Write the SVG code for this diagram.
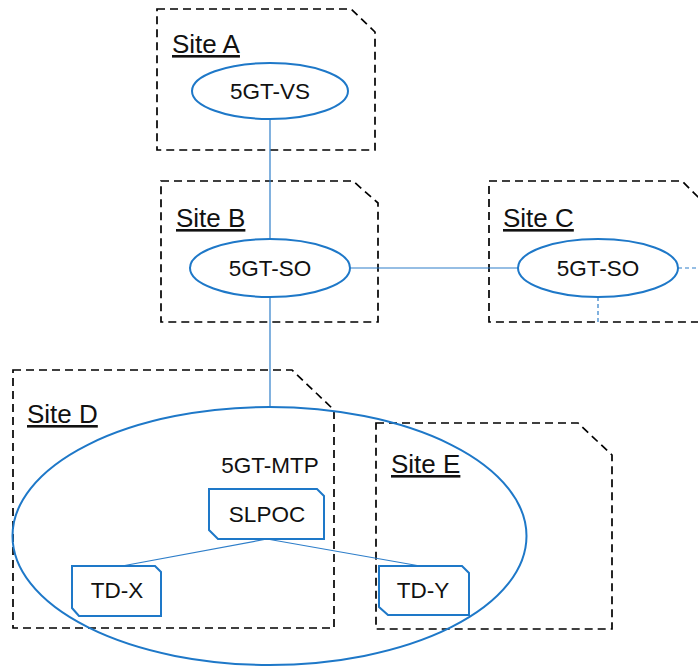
<svg xmlns="http://www.w3.org/2000/svg" width="698" height="668" viewBox="0 0 698 668">
<style>
.site{fill:none;stroke:#000;stroke-width:1.7;stroke-dasharray:8 5}
.lbl{font-family:"Liberation Sans",Arial,sans-serif;font-size:26px;fill:#111;text-decoration:underline}
.node{fill:#fff;stroke:#1E78C8;stroke-width:2}
.txt{font-family:"Liberation Sans",Arial,sans-serif;font-size:22.5px;fill:#111;text-anchor:middle}
.conn{stroke:#2E7EC9;stroke-width:1.2;fill:none}
.dconn{stroke:#2E7EC9;stroke-width:1.2;fill:none;stroke-dasharray:4 3}
</style>
<rect width="698" height="668" fill="#fff"/>
<g id="siteA"><path class="site" d="M157,9 H351 L375,32 V150 H157 Z"/><text class="lbl" x="172" y="53">Site A</text></g>
<g id="siteB"><path class="site" d="M161,181 H353 L378,203 V322 H161 Z"/><text class="lbl" x="176" y="227">Site B</text></g>
<g id="siteC"><path class="site" d="M489,181 H682 L706,205 V322 H489 Z"/><text class="lbl" x="503" y="227">Site C</text></g>
<g id="siteD"><path class="site" d="M13,370 H292 L334,410 V628 H13 Z"/><text class="lbl" x="27" y="423">Site D</text></g>
<g id="siteE"><path class="site" d="M376,423 H578 L612,455 V629 H376 Z"/><text class="lbl" x="391" y="473">Site E</text></g>
<g id="connectors">
<line class="conn" x1="270" y1="119" x2="270" y2="239"/>
<line class="conn" x1="270" y1="297" x2="270" y2="407"/>
<line class="conn" x1="350" y1="268" x2="518" y2="268"/>
<line class="dconn" x1="678" y1="268" x2="698" y2="268"/>
<line class="dconn" x1="598" y1="297" x2="598" y2="322"/>
<line class="conn" x1="267" y1="539" x2="122" y2="566"/>
<line class="conn" x1="267" y1="539" x2="420" y2="566"/>
</g>
<g id="mtp"><ellipse cx="269.5" cy="536" rx="257" ry="129" fill="none" stroke="#1E78C8" stroke-width="2"/><text class="txt" x="270" y="473">5GT-MTP</text></g>
<g id="vs"><ellipse class="node" cx="270" cy="91" rx="78" ry="28"/><text class="txt" x="270" y="99">5GT-VS</text></g>
<g id="soB"><ellipse class="node" cx="270" cy="268" rx="80" ry="29"/><text class="txt" x="270" y="276">5GT-SO</text></g>
<g id="soC"><ellipse class="node" cx="598" cy="268" rx="80" ry="29"/><text class="txt" x="598" y="276">5GT-SO</text></g>
<g id="slpoc"><path class="node" d="M209,489 H317 L324,496 V539 H218 L209,530 Z"/><text class="txt" x="267" y="522">SLPOC</text></g>
<g id="tdx"><path class="node" d="M72,566 H155 L161,572 V616 H79 L72,608 Z"/><text class="txt" x="117" y="598">TD-X</text></g>
<g id="tdy"><path class="node" d="M379,566 H462 L469,573 V615 H388 L379,607 Z"/><text class="txt" x="423" y="598">TD-Y</text></g>
</svg>
